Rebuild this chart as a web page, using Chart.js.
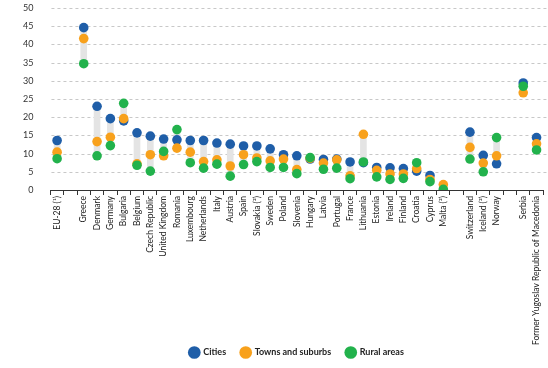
<html>
<head>
    <title>Cities, towns and suburbs, rural areas</title>
    <script src="https://cdn.jsdelivr.net/npm/chart.js"></script>
    <style>
        html, body { margin: 0; padding: 0; background: #fff; }
        #wrap { width: 548px; height: 368px; }
    </style>
</head>
<body>
    <div id="wrap"><canvas id="dotChart"></canvas></div>
    <script>
        // empty strings are the gaps between country groups
        const countries = ['EU-28 (¹)', '', 'Greece', 'Denmark', 'Germany', 'Bulgaria', 'Belgium', 'Czech Republic',
            'United Kingdom', 'Romania', 'Luxembourg', 'Netherlands', 'Italy', 'Austria', 'Spain', 'Slovakia (²)',
            'Sweden', 'Poland', 'Slovenia', 'Hungary', 'Latvia', 'Portugal', 'France', 'Lithuania', 'Estonia',
            'Ireland', 'Finland', 'Croatia', 'Cyprus', 'Malta (²)', '', 'Switzerland', 'Iceland (²)', 'Norway', '',
            'Serbia', 'Former Yugoslav Republic of Macedonia'];

        const cities = [13.6, null, 44.6, 23.0, 19.6, 19.0, 15.7, 14.8, 14.0, 13.8, 13.6, 13.6, 12.9, 12.6, 12.1, 12.1,
            11.3, 9.7, 9.4, 8.5, 8.4, 8.5, 7.7, 7.5, 6.2, 6.1, 5.9, 5.2, 4.0, null, null, 15.9, 9.5, 7.2, null,
            29.4, 14.4];
        const towns = [10.4, null, 41.6, 13.3, 14.5, 19.6, 7.2, 9.7, 9.4, 11.5, 10.4, 7.8, 8.3, 6.6, 9.7, 8.8,
            8.0, 8.5, 5.6, 8.7, 7.4, 8.3, 3.9, 15.3, 5.4, 4.4, 4.4, 5.9, 2.9, 1.5, null, 11.7, 7.4, 9.4, null,
            26.7, 12.7];
        const rural = [8.6, null, 34.7, 9.4, 12.2, 23.8, 6.8, 5.2, 10.6, 16.6, 7.5, 6.0, 7.1, 3.8, 7.0, 7.8,
            6.2, 6.2, 4.5, 8.9, 5.7, 6.0, 3.1, 7.7, 3.6, 2.9, 3.2, 7.5, 2.3, 0.2, null, 8.5, 5.0, 14.4, null,
            28.5, 11.0];

        const yTicks = [0, 5, 10, 15, 20, 25, 30, 35, 40, 45, 50];

        // grey bar from lowest to highest of the three values
        const ranges = countries.map((c, i) => {
            const v = [cities[i], towns[i], rural[i]].filter(x => x !== null);
            if (v.length === 0) return null;
            return [Math.min(...v), Math.max(...v)];
        });

        const dotStyle = (label, data, color, order) => ({
            type: 'line',
            label: label,
            data: data,
            showLine: false,
            order: order,
            backgroundColor: color,
            borderColor: color,
            pointRadius: 4.8,
            pointHoverRadius: 4.8,
            pointBorderWidth: 0,
            pointStyle: 'circle'
        });

        // dashed horizontal grid, placed with the y scale
        const dashedGrid = {
            id: 'dashedGrid',
            beforeDatasetsDraw(chart) {
                const { ctx, chartArea, scales } = chart;
                ctx.save();
                ctx.strokeStyle = '#c8c8c8';
                ctx.lineWidth = 1;
                ctx.setLineDash([3, 3]);
                yTicks.forEach(v => {
                    if (v === 0) return;
                    const y = Math.round(scales.y.getPixelForValue(v)) + 0.5;
                    ctx.beginPath();
                    ctx.moveTo(chartArea.left + 1, y);
                    ctx.lineTo(chartArea.right + 4, y);
                    ctx.stroke();
                });
                ctx.restore();
            }
        };

        const ctx = document.getElementById('dotChart').getContext('2d');
        new Chart(ctx, {
            type: 'bar',
            data: {
                labels: countries,
                datasets: [
                    dotStyle('Cities', cities, '#1f5ea8', 2),
                    dotStyle('Towns and suburbs', towns, '#f8a11c', 1),
                    dotStyle('Rural areas', rural, '#22b24c', 0),
                    {
                        type: 'bar',
                        label: 'range',
                        data: ranges,
                        order: 3,
                        backgroundColor: '#e4e4e4',
                        barThickness: 6
                    }
                ]
            },
            plugins: [dashedGrid],
            options: {
                responsive: true,
                maintainAspectRatio: false,
                animation: false,
                layout: { padding: { left: 14, right: 4, top: 8, bottom: 1 } },
                plugins: {
                    tooltip: { enabled: false },
                    legend: {
                        position: 'bottom',
                        fullSize: false,
                        labels: {
                            filter: item => item.text !== 'range',
                            sort: (a, b) => a.datasetIndex - b.datasetIndex,
                            // trailing spaces widen the gap between legend entries
                            generateLabels: chart => Chart.defaults.plugins.legend.labels.generateLabels(chart)
                                .map(item => {
                                    if (item.text === 'Cities' || item.text === 'Towns and suburbs') item.text += '      ';
                                    return item;
                                }),
                            usePointStyle: true,
                            pointStyle: 'circle',
                            boxWidth: 10,
                            boxHeight: 10,
                            padding: 2,
                            color: '#222',
                            font: { family: 'Lato', size: 9, weight: 'bold' }
                        }
                    }
                },
                scales: {
                    x: {
                        offset: true,
                        grid: {
                            offset: true,
                            drawOnChartArea: false,
                            drawTicks: true,
                            tickLength: 5,
                            color: '#333'
                        },
                        border: { color: '#333', width: 1 },
                        ticks: {
                            autoSkip: false,
                            maxRotation: 90,
                            minRotation: 90,
                            padding: 1,
                            color: '#222',
                            font: { family: 'Lato', size: 8.5 }
                        }
                    },
                    y: {
                        min: 0,
                        max: 50,
                        afterBuildTicks: axis => { axis.ticks = yTicks.map(v => ({ value: v })); },
                        afterFit: axis => { axis.paddingTop = 0; },
                        grid: { display: false },
                        border: { display: false },
                        ticks: {
                            padding: 9,
                            color: '#333',
                            font: { family: 'Lato', size: 9 }
                        }
                    }
                }
            }
        });
    </script>
</body>
</html>
